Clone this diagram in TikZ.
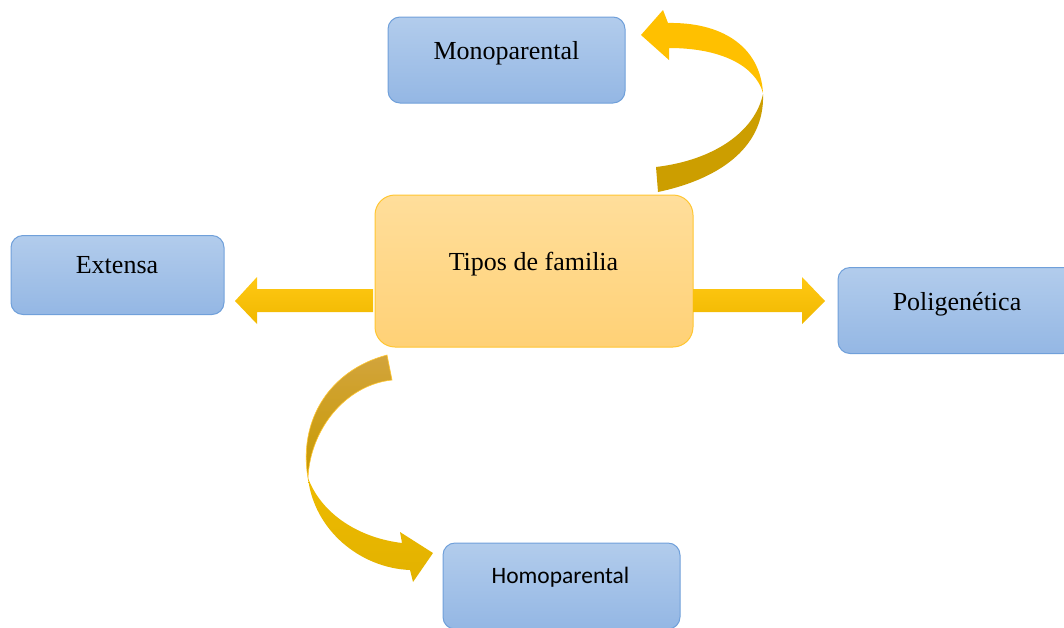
\documentclass[tikz,border=0pt]{standalone}
\usepackage{fontspec}
\setmainfont{Liberation Serif}
\newfontfamily\calibrifont{Carlito}
\definecolor{bluetop}{RGB}{178,204,236}
\definecolor{bluebot}{RGB}{148,183,228}
\definecolor{blueline}{RGB}{112,160,218}
\definecolor{ortop}{RGB}{255,222,155}
\definecolor{orbot}{RGB}{255,209,118}
\definecolor{orline}{RGB}{255,198,50}
\definecolor{arrtop}{RGB}{255,200,20}
\definecolor{arrbot}{RGB}{240,184,0}
\definecolor{darkgold}{RGB}{204,158,0}
\definecolor{gold}{RGB}{255,192,0}
\definecolor{shadetop}{RGB}{210,164,60}
\definecolor{shadebot}{RGB}{200,154,0}
\definecolor{goldlow}{RGB}{238,187,0}
\tikzset{
  bluebox/.style={draw=blueline, line width=1pt, rounded corners=12pt,
    top color=bluetop, bottom color=bluebot, minimum width=237pt, minimum height=86pt, inner sep=0pt},
  orbox/.style={draw=orline, line width=1pt, rounded corners=20pt,
    top color=ortop, bottom color=orbot, minimum width=318pt, minimum height=152pt, inner sep=0pt},
  serlabel/.style={font=\fontsize{26}{30}\selectfont, anchor=base, inner sep=0pt},
  sanslabel/.style={font=\calibrifont\fontsize{23.5}{28}\selectfont, anchor=base, inner sep=0pt},
  fatarrow/.style={top color=arrtop, bottom color=arrbot},
}
\begin{document}
\begin{tikzpicture}[x=1pt,y=-1pt]
\useasboundingbox (0,0) rectangle (1064,627);
% boxes
\node[bluebox] (mono) at (506.5,60) {};
\node[serlabel] (monoT) at (506.5,59) {Monoparental};
\node[bluebox, minimum width=213pt, minimum height=79pt] (ext) at (117.5,275) {};
\node[serlabel] (extT) at (117,273) {Extensa};
\node[bluebox] (poli) at (956.5,310.5) {};
\node[serlabel] (poliT) at (957,310) {Poligenética};
\node[bluebox] (homo) at (561.5,586) {};
\node[sanslabel] (homoT) at (560.5,583) {Homoparental};
\node[orbox] (tipos) at (534,271) {};
\node[serlabel] (tiposT) at (533.5,270) {Tipos de familia};
% straight block arrows
\shade[fatarrow] (373,289) -- (257,289) -- (257,277) -- (235,301) -- (257,324) -- (257,312) -- (373,312) -- cycle;
\shade[fatarrow] (693,289) -- (802,289) -- (802,277) -- (825,301) -- (802,324) -- (802,312) -- (693,312) -- cycle;
% curved arrow towards Monoparental
\fill[darkgold] (658,192) .. controls (715,180) and (765,150) .. (763,94)
  .. controls (755,131) and (715,160) .. (656,167) -- cycle;
\fill[gold] (763,93) .. controls (760,45) and (720,22) .. (668,23) -- (663,10) -- (641,35) -- (669,60) -- (669,48)
  .. controls (720,48) and (755,65) .. (763,93) -- cycle;
% curved arrow towards Homoparental
\shade[top color=shadetop, bottom color=shadebot, draw=orline, line width=0.6pt]
  (387,355) .. controls (330,370) and (298,420) .. (308,478)
  .. controls (310,430) and (345,385) .. (392,380) -- cycle;
\shade[top color=goldlow, bottom color=goldlow!95!black]
  (308,478) .. controls (314,530) and (360,568) .. (410,570) -- (413,582) -- (433,553) -- (400,532) -- (402,543)
  .. controls (360,538) and (322,515) .. (308,478) -- cycle;
\end{tikzpicture}
\end{document}
